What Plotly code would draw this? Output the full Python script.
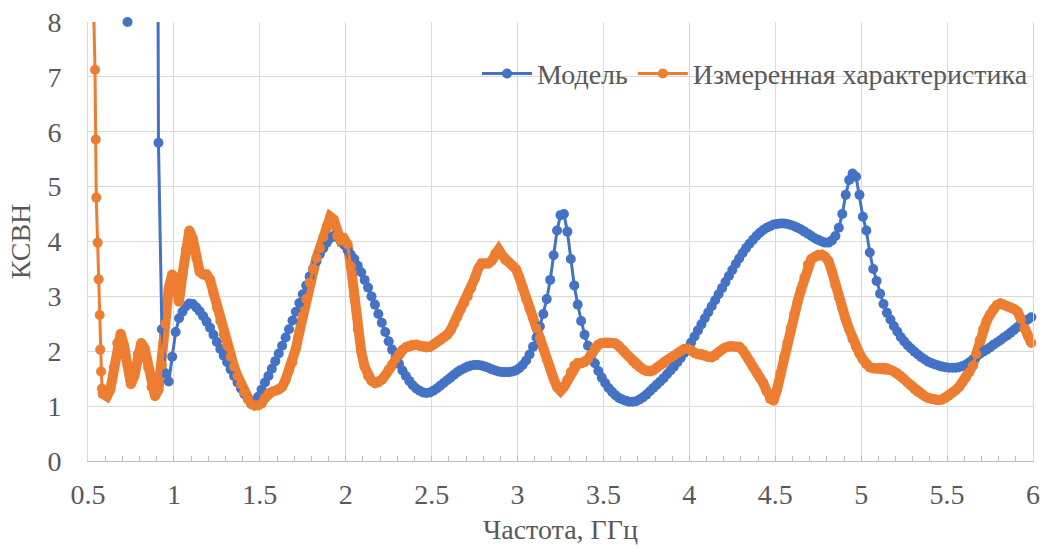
import plotly.graph_objects as go

# ---------------- data ----------------
# Модель: frequency grid 0.51 .. 5.99 GHz, step 0.02 (values above 8 are off-scale)
model_start = 0.51
model_step = 0.02
model_vswr = [
    14, 16, 18, 20, 22, 24, 25, 24, 22, 19,
    12, 8.0, 12, 16, 20, 24, 28, 30, 30, 28,
    5.8, 2.4, 1.6, 1.45, 1.9, 2.35, 2.6, 2.72, 2.82, 2.87,
    2.86, 2.8, 2.73, 2.64, 2.54, 2.43, 2.3, 2.17, 2.04, 1.92,
    1.8, 1.67, 1.55, 1.43, 1.32, 1.22, 1.13, 1.07, 1.08, 1.17,
    1.3, 1.43, 1.55, 1.68, 1.82, 1.96, 2.1, 2.25, 2.4, 2.56,
    2.72, 2.88, 3.04, 3.2, 3.36, 3.5, 3.64, 3.77, 3.88, 3.98,
    4.06, 4.1, 4.08, 4.02, 3.94, 3.85, 3.76, 3.68, 3.56, 3.44,
    3.3, 3.16, 3.0, 2.85, 2.68, 2.52, 2.35, 2.18, 2.03, 1.9,
    1.77, 1.65, 1.55, 1.46, 1.38, 1.32, 1.28, 1.25, 1.24, 1.25,
    1.28, 1.32, 1.37, 1.42, 1.47, 1.52, 1.57, 1.62, 1.66, 1.69,
    1.72, 1.74, 1.75, 1.75, 1.74, 1.72, 1.7, 1.67, 1.65, 1.63,
    1.62, 1.62, 1.62, 1.63, 1.65, 1.69, 1.75, 1.83, 1.94, 2.08,
    2.25, 2.45, 2.68, 2.95, 3.3, 3.75, 4.2, 4.48, 4.5, 4.18,
    3.68, 3.2, 2.85, 2.55, 2.3, 2.1, 1.93, 1.78, 1.64, 1.52,
    1.42, 1.33, 1.26, 1.2, 1.15, 1.12, 1.1, 1.08, 1.08, 1.09,
    1.12, 1.16, 1.21, 1.27, 1.33, 1.39, 1.45, 1.51, 1.58, 1.65,
    1.72, 1.8, 1.88, 1.97, 2.06, 2.16, 2.27, 2.38, 2.49, 2.6,
    2.71, 2.82, 2.93, 3.04, 3.15, 3.26, 3.37, 3.48, 3.59, 3.69,
    3.79, 3.88, 3.96, 4.03, 4.1, 4.16, 4.21, 4.25, 4.28, 4.31,
    4.32, 4.33, 4.33, 4.32, 4.3, 4.28, 4.25, 4.22, 4.18, 4.14,
    4.1, 4.06, 4.03, 4.0, 3.98, 3.98, 4.02, 4.1, 4.25, 4.5,
    4.85, 5.12, 5.24, 5.18, 4.85, 4.45, 4.2, 3.8, 3.5, 3.28,
    3.05, 2.86, 2.7, 2.58, 2.46, 2.36, 2.26, 2.18, 2.11, 2.05,
    1.99, 1.94, 1.89, 1.85, 1.81, 1.78, 1.76, 1.74, 1.72, 1.71,
    1.7, 1.7, 1.7, 1.71, 1.73, 1.76, 1.8, 1.85, 1.9, 1.95,
    1.99, 2.03, 2.07, 2.12, 2.16, 2.2, 2.25, 2.29, 2.34, 2.39,
    2.44, 2.49, 2.54, 2.58, 2.62,
]
model_freq = [round(model_start + model_step * i, 3) for i in range(len(model_vswr))]

# Измеренная характеристика: dense head, then grid 0.59 .. 5.99 GHz, step 0.02
meas_head_freq = [0.52, 0.53, 0.541, 0.545, 0.548, 0.556, 0.562, 0.568, 0.571, 0.576, 0.581, 0.585]
meas_head_vswr = [14, 8.6, 7.13, 5.86, 4.8, 3.98, 3.31, 2.66, 2.03, 1.63, 1.32, 1.22]
meas_start = 0.59
meas_step = 0.02
meas_vswr_grid = [
    1.22, 1.18, 1.3, 1.7, 2.15, 2.32, 2.1, 1.75, 1.4, 1.55,
    1.95, 2.15, 2.05, 1.7, 1.35, 1.18, 1.3, 1.75, 2.5, 3.15,
    3.4, 3.3, 2.9, 3.4, 3.85, 4.2, 4.05, 3.7, 3.45, 3.4,
    3.4, 3.3, 3.05, 2.8, 2.55, 2.3, 2.1, 1.9, 1.72, 1.55,
    1.4, 1.25, 1.12, 1.04, 1.01, 1.01, 1.05, 1.15, 1.23, 1.26,
    1.28, 1.3, 1.35, 1.48, 1.65, 1.8, 2.05, 2.35, 2.65, 2.95,
    3.25, 3.5, 3.7, 3.88, 4.08, 4.28, 4.45, 4.4, 4.1, 4.02,
    4.05, 3.95, 3.55, 3.0, 2.4, 2.0, 1.72, 1.55, 1.46, 1.42,
    1.43, 1.48, 1.56, 1.66, 1.76, 1.86, 1.95, 2.02, 2.07, 2.1,
    2.12, 2.12, 2.1, 2.08, 2.07, 2.08, 2.12, 2.16, 2.2, 2.25,
    2.3, 2.38, 2.5, 2.63, 2.76, 2.88, 3.0, 3.15, 3.32, 3.5,
    3.6, 3.6, 3.6, 3.65, 3.78, 3.85, 3.75, 3.66, 3.62, 3.56,
    3.5, 3.35, 3.15, 2.95, 2.78, 2.6, 2.42, 2.24, 2.05, 1.86,
    1.68, 1.5, 1.35, 1.28, 1.35, 1.48, 1.62, 1.74, 1.78, 1.78,
    1.8, 1.85, 1.95, 2.05, 2.12, 2.15, 2.16, 2.16, 2.15, 2.14,
    2.1, 2.03, 1.96, 1.89, 1.82, 1.76, 1.71, 1.67, 1.64, 1.63,
    1.65, 1.7, 1.75, 1.8, 1.84, 1.88, 1.92, 1.96, 2.0, 2.04,
    2.05, 2.02, 1.97, 1.94, 1.95, 1.93, 1.9, 1.89, 1.92, 1.98,
    2.03, 2.07, 2.09, 2.09, 2.08, 2.08, 2.02, 1.93, 1.83, 1.72,
    1.62, 1.52, 1.42, 1.27, 1.13, 1.1, 1.3, 1.6, 1.88, 2.15,
    2.42, 2.68, 2.9, 3.12, 3.35, 3.58, 3.68, 3.72, 3.76, 3.76,
    3.72, 3.64, 3.45, 3.2, 2.98, 2.78, 2.58, 2.4, 2.22, 2.08,
    1.96, 1.85, 1.76, 1.71, 1.69, 1.69, 1.7, 1.7, 1.69, 1.66,
    1.63, 1.6, 1.55, 1.49, 1.43, 1.37, 1.31, 1.26, 1.22, 1.18,
    1.15, 1.13, 1.12, 1.11, 1.12, 1.15, 1.19, 1.24, 1.29, 1.35,
    1.43, 1.52, 1.62, 1.74, 1.95, 2.2, 2.4, 2.55, 2.67, 2.77,
    2.84, 2.87, 2.85, 2.82, 2.8, 2.77, 2.72, 2.58, 2.42, 2.28,
    2.15,
]
meas_grid_freq = [round(meas_start + meas_step * i, 3) for i in range(len(meas_vswr_grid))]
meas_freq = meas_head_freq + meas_grid_freq
meas_vswr = meas_head_vswr + meas_vswr_grid

x_ticks = [0.5, 1, 1.5, 2, 2.5, 3, 3.5, 4, 4.5, 5, 5.5, 6]
y_ticks = [0, 1, 2, 3, 4, 5, 6, 7, 8]

# ---------------- styles ----------------
BLUE = "#4472C4"
ORANGE = "#ED7D31"
TXT = "#595959"
GRID = "#d9d9d9"
FONT = "Liberation Serif"
FS = 28

fig = go.Figure()

# thick underlay to reproduce the dense measured-data band
fig.add_trace(go.Scatter(
    x=meas_grid_freq, y=meas_vswr_grid, mode="lines",
    line=dict(color=ORANGE, width=10), showlegend=False, hoverinfo="skip",
))
fig.add_trace(go.Scatter(
    x=model_freq, y=model_vswr, mode="lines+markers", name="Модель",
    line=dict(color=BLUE, width=3), marker=dict(color=BLUE, size=10),
    cliponaxis=False,
))
fig.add_trace(go.Scatter(
    x=meas_freq, y=meas_vswr, mode="lines+markers", name="Измеренная характеристика",
    line=dict(color=ORANGE, width=3), marker=dict(color=ORANGE, size=10),
    cliponaxis=False,
))

fig.update_layout(
    width=1044, height=548,
    margin=dict(l=88, r=11, t=22, b=87),
    paper_bgcolor="white", plot_bgcolor="white",
    font=dict(family=FONT, size=FS, color=TXT),
    legend=dict(
        orientation="h", x=1.0, xanchor="right", y=0.882, yanchor="middle",
        bgcolor="rgba(0,0,0,0)", font=dict(family=FONT, size=FS, color=TXT),
        itemwidth=50, traceorder="normal",
    ),
    xaxis=dict(
        range=[0.5, 6], tickvals=x_ticks, ticktext=[str(v) for v in x_ticks],
        showgrid=True, gridcolor=GRID, gridwidth=1,
        showline=True, linecolor="#bfbfbf", linewidth=1, mirror=False,
        ticks="inside", ticklen=5, tickcolor="#bfbfbf",
        minor=dict(dtick=0.1, tick0=0.5, ticks="inside", ticklen=5, tickcolor="#bfbfbf", showgrid=False),
        zeroline=False, ticklabelstandoff=8, automargin=False,
        title=dict(text="Частота, ГГц", standoff=10, font=dict(family=FONT, size=FS, color=TXT)),
        tickfont=dict(family=FONT, size=FS, color=TXT),
    ),
    yaxis=dict(
        range=[0, 8], tickvals=y_ticks,
        showgrid=True, gridcolor=GRID, gridwidth=1,
        showline=True, linecolor=GRID, mirror=True,
        zeroline=False, ticks="", ticklabelstandoff=20, automargin=False,
        title=dict(text="КСВН", standoff=8, font=dict(family=FONT, size=FS, color=TXT)),
        tickfont=dict(family=FONT, size=FS, color=TXT),
    ),
)

fig.write_html(
    "out.html",
    config={"displayModeBar": False},
    post_script="document.body.style.margin='0px';",
)
